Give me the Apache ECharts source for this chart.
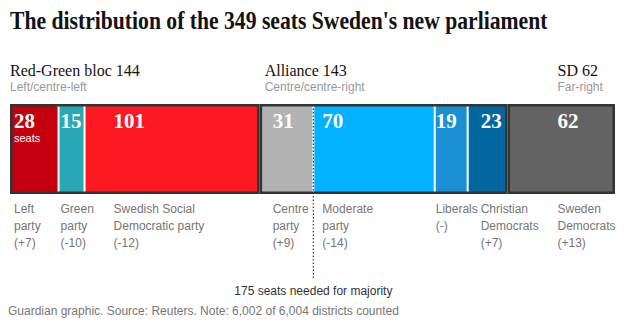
<!DOCTYPE html>
<html><head><meta charset="utf-8">
<script src="https://cdn.jsdelivr.net/npm/echarts@6/dist/echarts.min.js"></script>
<style>html,body{margin:0;padding:0;background:#fff}#c{width:630px;height:330px}</style>
</head><body><div id="c"></div>
<script>
// ---- data ----
const parties = ['Left\nparty', 'Green\nparty', 'Swedish Social\nDemocratic party', 'Centre\nparty', 'Moderate\nparty', 'Liberals', 'Christian\nDemocrats', 'Sweden\nDemocrats'];
const seats = [28, 15, 101, 31, 70, 19, 23, 62];
const changes = ['+7', '-10', '-12', '+9', '-14', '-', '+7', '+13'];
const blocs = ['Red-Green bloc', 'Alliance', 'SD'];
const blocSeats = [144, 143, 62];
const blocDesc = ['Left/centre-left', 'Centre/centre-right', 'Far-right'];
const majority = 175;
const totalSeats = 349;
const titleText = "The distribution of the 349 seats Sweden's new parliament";
const footText = 'Guardian graphic. Source: Reuters. Note: 6,002 of 6,004 districts counted';

// ---- styles / layout ----
const colors = ['#c4000f', '#29a8b6', '#fd1922', '#b3b3b3', '#00b2ff', '#1b8fd4', '#02669f', '#636363'];
const labelDx = [4, 2, 29, 13, 9, 1, 13, 50];
const blocDx = [0, 5, 50];
const sans = '"Liberation Sans", Arial, sans-serif';
const serif = '"Liberation Serif", serif';

const starts = [];
seats.reduce((acc, v, i) => { starts[i] = acc; return acc + v; }, 0);
const blocStarts = [];
blocSeats.reduce((acc, v, i) => { blocStarts[i] = acc; return acc + v; }, 0);

// measure title for condensing
const cv = document.createElement('canvas').getContext('2d');
cv.font = 'bold 26px "Liberation Serif"';
const tw = cv.measureText(titleText).width;
const titleScale = 538 / tw;

const chart = echarts.init(document.getElementById('c'), null, { renderer: 'svg' });

const partySeries = seats.map((v, i) => ({
  type: 'bar', stack: 'parties', barWidth: 90, barGap: '-100%',
  data: [v], z: 2,
  itemStyle: { color: colors[i], borderColor: '#ffffff', borderWidth: 1 },
  label: {
    show: true, position: [labelDx[i], 6],
    formatter: i === 0 ? '{v|' + v + '}\n{s|seats}' : '{v|' + v + '}',
    rich: {
      v: { fontFamily: serif, fontWeight: 'bold', fontSize: 21, color: '#fff', lineHeight: 21 },
      s: { fontFamily: sans, fontSize: 11, color: '#fff', lineHeight: 13 }
    }
  },
  silent: true
}));

const blocSeries = blocSeats.map((v) => ({
  type: 'bar', stack: 'blocs', barWidth: 90, barGap: '-100%', data: [v], z: 3,
  itemStyle: { color: 'rgba(0,0,0,0)', borderColor: '#333333', borderWidth: 2.5 },
  silent: true
}));

const nameSeries = {
  type: 'custom', coordinateSystem: 'cartesian2d', z: 5, silent: true,
  data: seats.map((v, i) => [starts[i], 0, i]),
  encode: { x: 0, y: 1 },
  renderItem: function (params, api) {
    const i = api.value(2);
    const p = api.coord([api.value(0), 0]);
    const half = api.size([0, 1])[1] / 2;
    return {
      type: 'text', x: p[0] + labelDx[i], y: p[1] + half + 6,
      style: {
        text: parties[i] + '\n(' + changes[i] + ')',
        fill: '#767676', fontFamily: sans, fontSize: 12, lineHeight: 17,
        align: 'left', verticalAlign: 'top'
      }
    };
  }
};

const blocSeriesLabels = {
  type: 'custom', coordinateSystem: 'cartesian2d', z: 5, silent: true,
  data: blocSeats.map((v, j) => [blocStarts[j], 0, j]),
  encode: { x: 0, y: 1 },
  renderItem: function (params, api) {
    const j = api.value(2);
    const p = api.coord([api.value(0), 0]);
    const half = api.size([0, 1])[1] / 2;
    const top = p[1] - half;
    return {
      type: 'group', children: [
        { type: 'text', x: p[0] + blocDx[j], y: top - 42,
          style: { text: blocs[j] + ' ' + blocSeats[j], fill: '#121212', fontFamily: serif, fontSize: 16, verticalAlign: 'top' } },
        { type: 'text', x: p[0] + blocDx[j], y: top - 23,
          style: { text: blocDesc[j], fill: '#999999', fontFamily: sans, fontSize: 12, verticalAlign: 'top' } }
      ]
    };
  }
};

const majoritySeries = {
  type: 'custom', coordinateSystem: 'cartesian2d', z: 6, silent: true,
  data: [[majority, 0]],
  encode: { x: 0, y: 1 },
  renderItem: function (params, api) {
    const p = api.coord([api.value(0), 0]);
    const half = api.size([0, 1])[1] / 2;
    return {
      type: 'group', children: [
        { type: 'line', shape: { x1: p[0], y1: p[1] - half + 1, x2: p[0], y2: 280 },
          style: { stroke: '#444', lineWidth: 1.3, lineDash: [1.5, 2] } },
        { type: 'text', x: p[0], y: 291,
          style: { text: majority + ' seats needed for majority', fill: '#333', fontFamily: sans, fontSize: 12, align: 'center', verticalAlign: 'middle' } }
      ]
    };
  }
};

chart.setOption({
  backgroundColor: '#ffffff',
  animation: false,
  grid: { left: 10, right: 15, top: 104, height: 90 },
  xAxis: { type: 'value', min: 0, max: totalSeats, show: false },
  yAxis: { type: 'category', data: ['Seats'], show: false },
  graphic: [
    { type: 'text', left: 10, top: 7, scaleX: titleScale, scaleY: 1,
      style: { text: titleText, fill: '#121212', fontFamily: serif, fontWeight: 'bold', fontSize: 26 } },
    { type: 'text', left: 8, top: 305,
      style: { text: footText, fill: '#767676', fontFamily: sans, fontSize: 12 } }
  ],
  series: [].concat(partySeries, blocSeries, [nameSeries, blocSeriesLabels, majoritySeries])
});
</script>
</body></html>
